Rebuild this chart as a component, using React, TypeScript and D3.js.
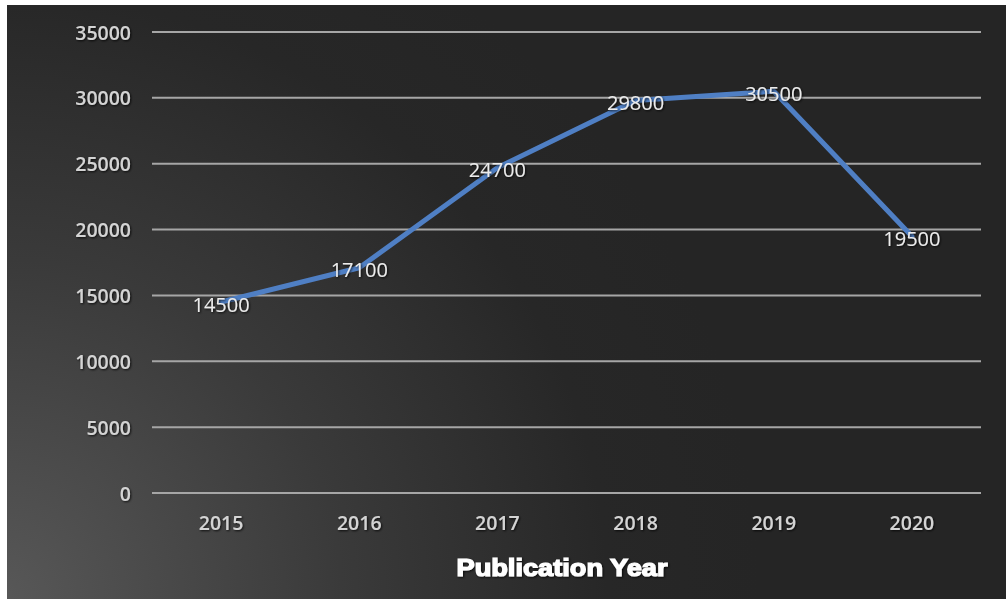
import React from "react";
import * as d3 from "d3";

const years = ["2015", "2016", "2017", "2018", "2019", "2020"];
const values = [14500, 17100, 24700, 29800, 30500, 19500];
const yTicks = [0, 5000, 10000, 15000, 20000, 25000, 30000, 35000];
const xTitle = "Publication Year";

export default function App() {
  const W = 1008, H = 601;
  const x = d3.scaleBand<string>().domain(years).range([152, 981]).padding(0);
  const y = d3.scaleLinear().domain([0, 35000]).range([493, 32]);
  const cx = (d: string) => (x(d) as number) + x.bandwidth() / 2;
  const line = d3
    .line<number>()
    .x((_, i) => cx(years[i]))
    .y((v) => y(v));
  const font = "'Open Sans', 'Liberation Sans', sans-serif";
  return (
    <svg
      width={W}
      height={H}
      style={{ position: "absolute", left: 0, top: 0, display: "block" }}
    >
      <defs>
        <radialGradient id="bg" cx="0" cy="601" r="760" gradientUnits="userSpaceOnUse">
          <stop offset="0" stopColor="#585858" />
          <stop offset="0.45" stopColor="#3a3a3a" />
          <stop offset="0.8" stopColor="#272727" />
          <stop offset="1" stopColor="#252525" />
        </radialGradient>
        <filter id="sh" x="-20%" y="-20%" width="140%" height="140%">
          <feDropShadow dx="1" dy="1" stdDeviation="1.2" floodColor="#000" floodOpacity="0.8" />
        </filter>
        <filter id="blur1">
          <feGaussianBlur stdDeviation="0.5" />
        </filter>
      </defs>
      <rect x={0} y={0} width={W} height={H} fill="#ffffff" />
      <rect x={7} y={5} width={999} height={594} fill="url(#bg)" />
      <g filter="url(#blur1)">
        {yTicks.map((t) => (
          <line key={t} x1={152} x2={981} y1={y(t)} y2={y(t)} stroke="#a6a6a6" strokeWidth={2} />
        ))}
      </g>
      <g fontFamily={font} fontSize={19.5} fill="#d4d4d4" fontWeight={600} filter="url(#sh)">
        {yTicks.map((t) => (
          <text key={t} x={131} y={y(t)} textAnchor="end" dominantBaseline="central">
            {t}
          </text>
        ))}
        {years.map((d) => (
          <text key={d} x={cx(d)} y={522} textAnchor="middle" dominantBaseline="central">
            {d}
          </text>
        ))}
      </g>
      <path
        d={line(values) || ""}
        fill="none"
        stroke="#4f7fc4"
        strokeWidth={5}
        strokeLinejoin="round"
        strokeLinecap="round"
      />
      <g fontFamily={font} fontSize={20} fill="#ececec" filter="url(#sh)">
        {values.map((v, i) => (
          <text key={i} x={cx(years[i])} y={y(v) + 2} textAnchor="middle" dominantBaseline="central">
            {v}
          </text>
        ))}
      </g>
      <text
        x={562}
        y={568}
        textAnchor="middle"
        dominantBaseline="central"
        fontFamily="'Liberation Sans', Arial, sans-serif"
        fontWeight={900}
        fontSize={23}
        textLength={211}
        lengthAdjust="spacingAndGlyphs"
        fill="#ffffff"
        stroke="#ffffff"
        strokeWidth={1.2}
        filter="url(#sh)"
      >
        {xTitle}
      </text>
    </svg>
  );
}
